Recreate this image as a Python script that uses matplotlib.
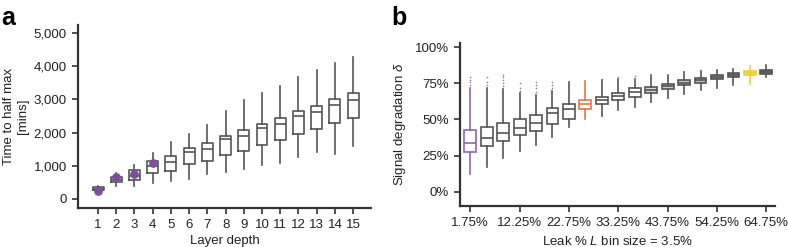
import matplotlib
matplotlib.use("Agg")
import matplotlib.pyplot as plt

plt.rcParams["font.family"] = ["Liberation Sans", "DejaVu Sans"]
plt.rcParams["mathtext.fontset"] = "custom"
plt.rcParams["mathtext.it"] = "Liberation Sans:italic"

# ---- panel a: time to half max per layer depth
a_depth = list(range(1, 16))
a_whislo = [230, 380, 380, 480, 530, 610, 750, 800, 910, 1030, 1090, 1260, 1410, 1360, 1590]
a_q1 = [270, 500, 580, 780, 830, 1060, 1130, 1330, 1440, 1630, 1770, 1950, 2100, 2290, 2440]
a_med = [310, 580, 700, 980, 1100, 1400, 1520, 1800, 1900, 2140, 2270, 2510, 2630, 2830, 2990]
a_q3 = [360, 650, 860, 1130, 1300, 1530, 1690, 1890, 2070, 2270, 2440, 2660, 2810, 3020, 3190]
a_whishi = [380, 780, 1030, 1380, 1720, 1960, 2220, 2660, 2970, 3190, 3410, 3660, 3880, 4100, 4280]
a_dot_depth = [1, 2, 3, 4]
a_dot_val = [230, 650, 750, 1080]
a_yticks = [0, 1000, 2000, 3000, 4000, 5000]
a_yticklabels = ["0", "1,000", "2,000", "3,000", "4,000", "5,000"]

# ---- panel b: signal degradation per leak bin
b_whislo = [12.6, 17, 23.3, 28, 32.5, 38.2, 45, 50.1, 52.4, 56.5, 58.8, 62.2, 64.5, 67.5, 70.3, 71.4, 73.7, 74.8, 79]
b_q1 = [27.9, 31.4, 35, 39.1, 42.3, 46.9, 50.1, 57.2, 60.4, 63.4, 65.7, 68.4, 70.7, 73.7, 75.5, 77.6, 79.4, 80.5, 81.7]
b_med = [34.1, 37, 40.5, 44.4, 47.4, 54.7, 57.2, 60.4, 63.4, 66.1, 69.1, 70.5, 72.8, 75.5, 77.1, 79.4, 80.8, 81.9, 82.8]
b_q3 = [42.8, 45, 47.8, 50.3, 52.9, 57.7, 60.4, 63.4, 65.7, 68.4, 71.4, 72.5, 74.8, 77.1, 78.9, 80.5, 82.2, 83.3, 84]
b_whishi = [72, 72, 71, 68, 66.8, 70, 76, 76.7, 77, 78, 77.8, 80.5, 81, 82.8, 83.5, 84.4, 85.1, 86.7, 87.4]
b_fliers = [[74, 76, 77.5, 79], [74, 76, 79], [73, 75, 77, 79, 81], [70, 72, 75], [69, 72, 74, 76],
            [72, 74, 76], [], [], [78], [79], [80], [], [], [], [84], [], [], [], []]
b_colors = ["#8a6ab0"] + ["#555555"] * 6 + ["#e8744c"] + ["#555555"] * 9 + ["#f0cf3a", "#555555"]
b_fills = ["none"] * 11 + ["#d4d4d4", "#cccccc", "#c4c4c4", "#bbbbbb", "#aaaaaa", "#999999", "#f5dc6a", "#777777"]
b_xticks = [1, 4, 7, 10, 13, 16, 19]
b_xticklabels = ["1.75%", "12.25%", "22.75%", "33.25%", "43.75%", "54.25%", "64.75%"]
b_yticks = [0, 25, 50, 75, 100]
b_yticklabels = ["0%", "25%", "50%", "75%", "100%"]

axis_col = "#333333"
fs = 9.5

fig = plt.figure(figsize=(7.88, 2.47), dpi=100)
ax1 = fig.add_axes([0.099, 0.158, 0.372, 0.741])
ax2 = fig.add_axes([0.584, 0.166, 0.400, 0.660])

for ax in (ax1, ax2):
    for s in ("top", "right"):
        ax.spines[s].set_visible(False)
    for s in ("left", "bottom"):
        ax.spines[s].set_color(axis_col)
        ax.spines[s].set_linewidth(1.6)
    ax.tick_params(direction="out", length=4, width=1.2, color=axis_col,
                   labelsize=fs, labelcolor="#222222", pad=4)

# panel a
stats_a = []
for i in range(len(a_depth)):
    stats_a.append(dict(whislo=a_whislo[i], q1=a_q1[i], med=a_med[i],
                        q3=a_q3[i], whishi=a_whishi[i], fliers=[]))
box_style = dict(color="#555555", linewidth=1.2)
ax1.bxp(stats_a, positions=a_depth, widths=0.6, showcaps=False,
        boxprops=box_style, medianprops=box_style, whiskerprops=box_style)
ax1.scatter(a_dot_depth, a_dot_val, s=28, color="#7b4f9e", zorder=5)
ax1.set_xlim(-0.1, 15.99)
ax1.set_ylim(-271, 5241)
ax1.set_xticks(a_depth)
ax1.set_xticklabels([str(d) for d in a_depth])
ax1.set_yticks(a_yticks)
ax1.set_yticklabels(a_yticklabels)
ax1.set_xlabel("Layer depth", fontsize=fs, color="#222222", labelpad=3)
ax1.set_ylabel("Time to half max\n[mins]", fontsize=fs, color="#222222", labelpad=3,
               linespacing=1.25)

# panel b
positions_b = list(range(1, len(b_med) + 1))
for i, p in enumerate(positions_b):
    st = [dict(whislo=b_whislo[i], q1=b_q1[i], med=b_med[i], q3=b_q3[i],
               whishi=b_whishi[i], fliers=b_fliers[i])]
    c = b_colors[i]
    lp = dict(color=c, linewidth=1.2)
    ax2.bxp(st, positions=[p], widths=0.72, showcaps=False, patch_artist=True,
            boxprops=dict(facecolor=b_fills[i], edgecolor=c, linewidth=1.2),
            medianprops=lp, whiskerprops=lp,
            flierprops=dict(marker="o", markersize=1.2, markerfacecolor="#888888",
                            markeredgecolor="none"))
ax2.set_xlim(0.39, 19.55)
ax2.set_ylim(-9.7, 102.8)
ax2.set_xticks(b_xticks)
ax2.set_xticklabels(b_xticklabels)
ax2.set_yticks(b_yticks)
ax2.set_yticklabels(b_yticklabels)
ax2.set_xlabel("Leak % $L$ bin size = 3.5%", fontsize=fs, color="#222222", labelpad=4)
ax2.set_ylabel(r"Signal degradation $\delta$", fontsize=fs, color="#222222", labelpad=5)

fig.text(0.002, 0.975, "a", fontsize=18, fontweight="bold", va="top")
fig.text(0.497, 0.975, "b", fontsize=18, fontweight="bold", va="top")

fig.savefig("out.png", dpi=100)
